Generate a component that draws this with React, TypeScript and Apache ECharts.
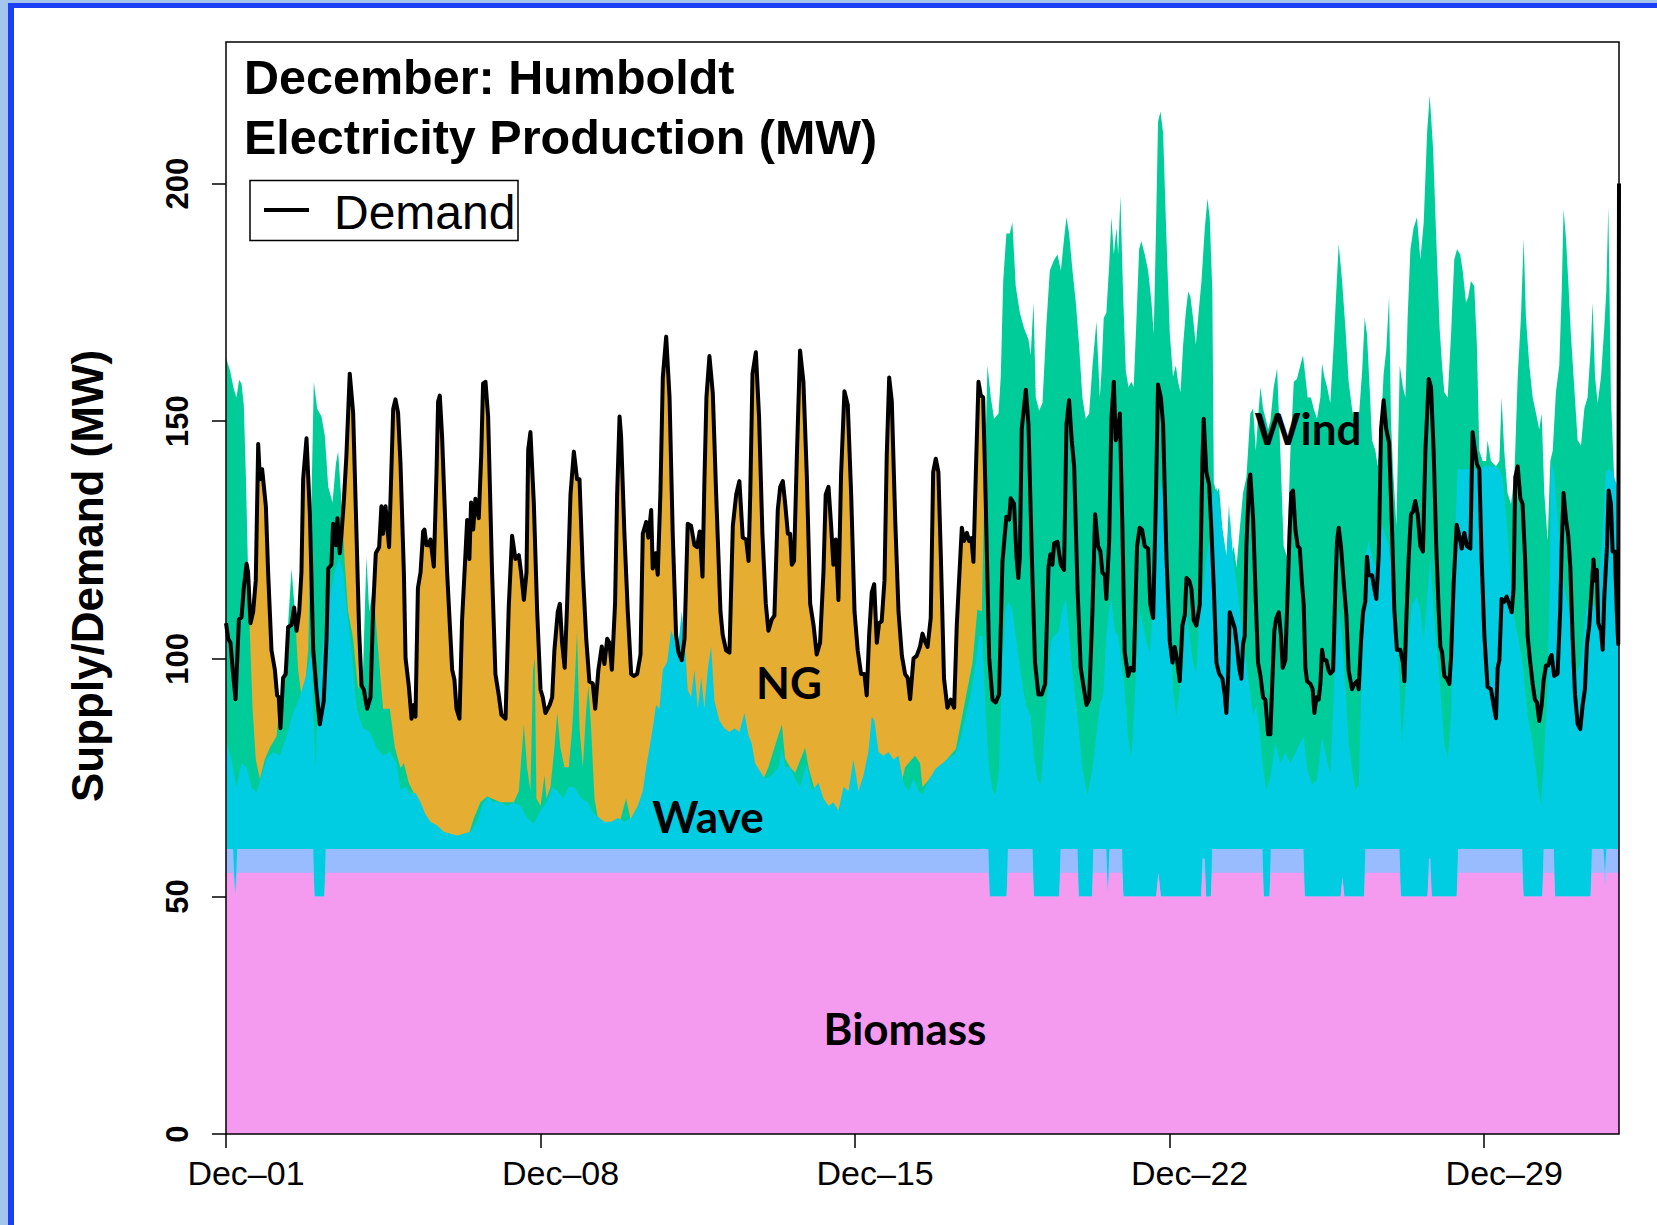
import React, { useEffect, useRef } from 'react';
import * as echarts from 'echarts';

// ---- axis ticks ----
const xTickHours = [0, 168, 336, 504, 672];
const xTickLabels = ['Dec–01', 'Dec–08', 'Dec–15', 'Dec–22', 'Dec–29'];
const yTickValues = [0, 50, 100, 150, 200];

// ---- demand (MW) : [hour since Dec-01 00:00, MW] ----
const demand: [number, number][] = [
  [0,107.5],[1.2,104.2],[2.4,103.4],[3.8,96.8],[5.1,91.5],[6.9,108.3],[8.3,108.7],[9.5,114.9],[11.0,120.0],[11.8,118.2],[13.1,107.5],[14.5,109.9],[15.9,116.5],[17.2,145.2],[18.1,137.8],[19.3,139.9],[21.3,132.1],[22.5,118.2],[24.3,101.8],[26.1,97.7],[27.3,92.3],[28.2,91.9],[29.1,85.4],[30.5,96.0],[31.9,96.8],[33.2,106.7],[35.0,107.1],[36.4,110.8],[37.7,105.9],[39.1,109.9],[40.3,118.2],[41.2,137.8],[43.0,146.4],[44.8,130.5],[46.6,101.8],[48.3,93.5],[50.1,86.2],[52.2,91.1],[53.7,104.2],[54.6,119.0],[56.3,119.8],[57.2,128.4],[58.7,123.9],[59.5,129.6],[60.8,122.2],[61.7,126.3],[62.9,132.9],[64.3,142.7],[66.1,160.0],[67.9,151.8],[69.7,126.3],[71.1,105.9],[72.4,94.4],[73.6,93.5],[75.4,89.5],[77.2,91.9],[78.6,110.8],[80.0,122.2],[81.8,123.5],[83.0,132.1],[83.9,126.3],[85.2,132.1],[87.1,123.5],[89.3,152.6],[90.5,154.6],[91.9,151.8],
  [93.2,141.1],[95.0,118.2],[95.9,100.1],[97.6,94.4],[99.1,87.4],[100.3,90.3],[101.2,87.8],[102.5,114.9],[103.9,118.2],[105.3,126.8],[106.0,127.2],[107.1,123.9],[108.3,123.9],[109.2,125.1],[111.0,119.4],[112.4,138.7],[113.3,154.2],[114.2,155.4],[115.4,146.9],[118.1,118.2],[120.8,97.7],[122.0,95.6],[123.1,89.5],[124.7,87.4],[126.1,108.3],[127.4,118.2],[128.8,129.2],[130.0,121.0],[130.9,132.9],[132.0,127.2],[133.2,133.7],[135.0,129.6],[136.3,142.7],[137.3,157.9],[138.6,158.3],[140.0,151.0],[142.1,118.2],[143.9,96.8],[145.7,92.3],[147.1,88.2],[149.3,87.4],[151.0,110.8],[152.8,125.9],[154.6,121.0],[156.4,121.8],[157.6,118.2],[159.1,112.4],[160.5,118.2],[161.4,144.0],[162.6,147.7],[164.4,132.9],[166.2,109.9],[168.0,93.5],[169.2,91.9],[170.6,88.6],[172.9,90.3],[174.2,91.9],[175.4,101.8],[177.2,109.9],[178.3,111.6],[179.5,103.4],[180.9,98.1],[182.2,111.6],[184.0,134.6],[185.8,143.6],
  [187.5,137.8],[188.8,137.8],[190.6,118.2],[192.4,104.2],[194.1,95.2],[195.9,94.8],[197.2,89.5],[198.9,97.7],[200.7,102.6],[202.1,98.9],[203.6,104.2],[204.8,103.4],[206.1,97.7],[207.8,111.6],[208.9,134.6],[210.2,151.0],[211.0,146.9],[212.8,126.3],[214.6,109.9],[216.4,96.8],[217.8,96.4],[219.6,96.8],[221.4,100.9],[222.6,126.3],[224.4,128.8],[225.6,125.5],[227.1,131.3],[227.9,119.0],[229.4,122.2],[230.6,117.7],[232.0,134.6],[233.3,159.2],[235.1,167.8],[236.9,155.0],[238.6,126.3],[240.4,105.0],[241.7,101.3],[243.4,99.7],[244.9,104.2],[246.6,128.4],[248.4,128.0],[250.2,123.9],[251.6,123.5],[253.0,126.8],[254.5,117.3],[255.5,137.0],[256.6,155.0],[258.2,163.7],[260.0,155.9],[261.8,134.6],[264.1,109.9],[265.3,105.0],[267.1,101.8],[268.9,101.3],[270.7,128.0],[272.5,134.6],[274.2,137.4],[276.0,125.5],[277.8,125.1],
  [279.1,120.6],[280.0,134.6],[281.2,160.0],[283.0,164.5],[284.7,151.0],[286.5,126.3],[288.3,111.6],[289.7,105.9],[291.5,108.3],[292.9,109.1],[294.7,131.3],[296.0,136.2],[297.4,137.4],[298.6,132.9],[300.1,126.3],[301.3,126.3],[302.2,119.8],[303.4,120.6],[304.9,142.7],[306.6,164.9],[308.4,158.3],[310.2,138.7],[312.0,111.6],[313.8,107.1],[315.5,100.9],[317.3,103.4],[319.1,118.2],[320.3,134.6],[321.8,136.2],[323.2,128.0],[324.4,119.8],[325.7,125.1],[327.1,112.4],[328.5,138.7],[330.3,156.3],[332.1,153.4],[333.9,134.6],[335.7,109.9],[337.4,101.8],[339.2,96.8],[341.0,96.8],[342.2,92.3],[343.5,105.0],[344.9,114.0],[346.2,115.7],[347.6,103.4],[348.8,107.5],[350.2,107.9],[351.7,116.5],[352.9,142.7],[354.2,159.2],[355.6,154.2],[357.4,129.6],[359.2,109.9],[361.0,100.6],[362.7,96.8],[364.1,96.0],[365.4,91.5],[367.2,100.1],[368.9,100.6],[370.7,102.6],
  [372.0,105.3],[373.4,103.6],[374.7,102.5],[376.4,108.6],[377.7,139.3],[379.1,142.1],[380.5,139.3],[381.8,121.5],[383.5,95.8],[385.3,89.7],[387.1,91.4],[388.9,89.7],[390.3,107.0],[391.6,117.0],[393.0,127.6],[394.2,124.8],[395.7,126.5],[396.9,124.8],[398.1,125.4],[399.2,120.4],[400.5,139.3],[401.9,158.3],[403.1,155.5],[404.4,155.0],[405.8,132.6],[407.6,100.3],[409.4,91.4],[411.1,90.8],[412.9,92.5],[414.7,120.4],[416.8,129.9],[418.3,129.3],[419.1,133.8],[420.9,132.6],[422.2,121.5],[423.2,117.0],[424.0,121.5],[425.0,148.3],[427.2,156.6],[428.6,149.4],[430.4,121.5],[432.1,99.2],[433.9,92.5],[435.7,92.5],[437.5,94.7],[439.3,119.3],[440.3,122.0],[441.4,119.8],[442.3,124.3],[444.1,124.6],[445.9,119.8],[447.6,118.7],[448.9,149.4],[450.3,154.4],[451.7,146.0],[453.0,140.5],[454.8,114.8],[456.5,98.1],[457.8,94.7],[459.6,90.3],[461.0,91.4],[462.8,110.3],[464.2,130.4],
  [465.8,123.7],[467.0,122.6],[468.1,118.1],[469.4,117.6],[470.2,112.6],[471.7,124.8],[472.9,150.5],[474.2,158.3],[475.2,146.0],[476.5,148.3],[477.4,151.6],[478.8,127.1],[480.0,101.4],[481.8,96.4],[483.2,98.1],[484.8,97.5],[486.6,123.7],[488.0,127.6],[489.3,127.1],[490.7,123.7],[492.5,123.2],[493.7,111.4],[495.2,108.6],[496.6,132.6],[497.8,157.7],[499.3,155.0],[500.5,149.4],[502.3,121.5],[504.1,103.6],[505.5,99.2],[506.7,102.5],[508.0,99.7],[509.4,95.3],[510.8,107.0],[512.1,109.2],[513.0,117.0],[514.4,116.5],[515.6,114.8],[516.9,108.1],[518.3,107.0],[520.1,111.4],[521.5,141.6],[522.2,150.5],[523.6,139.3],[525.1,136.6],[526.3,127.1],[527.6,114.8],[529.0,99.2],[530.4,96.9],[532.2,95.8],[533.4,92.5],[534.3,88.6],[535.2,95.8],[536.1,109.8],[537.5,108.1],[538.8,106.4],[540.0,102.5],[541.1,98.1],[542.3,95.8],[543.2,103.1],[544.1,104.8],[545.0,123.7],[546.4,137.1],[547.1,138.8],[548.6,129.3],[550.0,112.6],[551.2,99.2],[552.5,96.4],[553.9,91.9],[555.1,91.4],[556.6,84.1],
  [557.8,84.1],[558.7,93.6],[559.9,105.9],[561.0,108.6],[562.3,109.8],[563.5,104.8],[564.4,98.1],[565.8,99.7],[567.1,114.8],[568.1,127.1],[569.0,134.9],[569.9,135.4],[571.2,127.1],[572.4,123.7],[573.5,123.2],[574.7,115.9],[575.6,111.4],[576.5,98.1],[577.4,95.3],[579.2,94.7],[580.4,93.6],[581.3,88.6],[582.4,91.9],[583.6,91.4],[584.5,94.7],[585.4,101.9],[586.3,99.7],[587.7,99.7],[589.0,97.5],[589.8,96.9],[591.3,97.5],[592.5,114.8],[593.4,124.8],[594.3,127.6],[595.5,123.7],[597.0,115.9],[598.4,109.2],[599.6,97.5],[601.4,93.6],[602.7,94.7],[604.1,95.3],[605.0,93.6],[606.2,103.6],[607.3,109.8],[608.5,112.0],[609.4,121.5],[610.3,117.6],[612.1,117.6],[613.3,114.8],[614.4,112.6],[615.7,122.0],[616.9,148.3],[618.3,154.4],[619.7,148.3],[621.2,145.5],[622.8,127.1],[624.0,110.3],[625.4,101.9],[627.2,101.9],[628.6,99.2],[629.4,95.3],[630.4,108.1],[631.7,121.5],[632.9,130.4],[634.0,131.0],[635.2,133.2],[636.5,130.4],[637.9,123.7],[639.3,122.6],[640.6,143.8],[642.4,158.9],[643.6,157.2],[645.0,143.8],[646.4,123.7],[647.7,110.3],[648.6,102.5],[649.5,101.4],
  [650.7,96.4],[652.1,95.8],[653.4,94.7],[654.3,100.3],[655.7,115.9],[657.3,128.2],[658.7,125.9],[660.0,123.2],[661.4,126.5],[662.8,123.7],[664.6,123.2],[665.8,147.7],[666.7,144.9],[668.1,141.0],[669.4,139.9],[670.6,121.5],[672.1,104.8],[673.8,94.1],[675.6,93.6],[677.0,90.3],[678.3,87.5],[679.2,98.1],[680.1,99.7],[681.3,112.6],[682.7,112.0],[684.0,113.1],[685.4,111.4],[686.7,109.8],[687.7,114.8],[688.6,138.2],[689.9,140.5],[691.3,133.8],[692.5,132.6],[693.8,121.5],[695.2,104.8],[696.6,99.2],[697.9,94.7],[699.1,91.4],[700.2,90.8],[701.4,86.9],[702.7,90.3],[703.7,95.3],[705.0,98.6],[706.2,98.6],[707.3,100.3],[708.0,100.8],[709.4,96.4],[711.2,96.9],[712.6,110.3],[713.4,123.7],[714.4,134.9],[715.7,129.3],[716.9,125.9],[718.0,119.3],[719.2,104.8],[720.5,92.5],[721.9,86.3],[723.3,85.2],[724.6,90.3],[725.8,93.6],[726.9,103.1],[728.1,107.0],[729.4,114.8],[730.4,120.9],[731.2,116.5],[732.2,118.7],[732.9,107.5],[734.4,105.9],[735.3,101.9],[736.1,112.6],[737.6,123.7],[738.5,135.4],[739.7,132.6],[740.6,122.6],[741.8,122.6],[742.9,109.2],[743.6,103.1],[744,200],
];

// ---- top of the wind layer (cumulative MW) ----
const windTop: [number, number][] = [
  [0,163.3],[2.1,160.8],[4.2,156.7],[5.6,155.0],[7.0,158.7],[8.3,157.9],[9.5,153.4],[10.6,138.7],[11.7,119.8],[12.7,105.9],[14.2,89.5],[15.9,78.8],[18.1,74.7],[20.7,78.8],[23.4,81.3],[27.0,83.7],[29.6,93.5],[32.3,101.8],[35.0,119.0],[36.8,110.0],[38.5,97.7],[41.2,89.5],[43.9,101.8],[45.7,134.6],[46.9,158.3],[48.7,152.6],[51.0,151.0],[52.8,146.9],[54.6,136.2],[56.9,132.9],[58.7,141.1],[59.9,143.6],[61.7,132.9],[63.5,119.8],[65.2,110.0],[67.9,104.2],[70.6,93.5],[73.2,97.7],[75.0,121.4],[76.5,110.0],[78.6,114.9],[81.3,101.8],[83.9,89.5],[87.5,89.5],[90.2,81.3],[93.2,77.0],
  [95.0,78.0],[97.6,73.9],[100.3,71.8],[103.9,66],[106,62],[126,62],[128.8,62],[132.4,66.5],[135.9,69.8],[139.5,71.0],[146.6,69.8],[153.7,69.8],[156.4,72.2],[159.1,86.2],[160.8,77.2],[162.6,72.2],[164.0,97.7],[164.9,100.1],[165.8,70.6],[168.0,69.0],[170.1,75.5],[171.2,70.6],[173.3,73.0],[175.4,81.3],[176.9,88.6],[178.6,81.3],[180.8,77.2],[183.1,77.2],[184.9,85.4],
  [186.1,93.5],[187.5,105.9],[188.8,85.4],[190.6,77.2],[192.4,89.5],[193.6,94.4],[195.0,85.4],[196.8,70.6],[198.6,66.5],[201,62],[208,62],[210.9,66.5],[213.7,70.6],[215.5,67.3],[218,62],[276,62],
  [279.1,80],[286.2,74],[289.7,77.2],[294.2,82.9],[296.9,86.2],[298.6,79],[301.3,77.2],[304.0,76],[309.3,81.3],[311.1,77.2],[314.7,72],[318,62],[358,62],[360.9,74],[362.7,77.2],[368.0,79.6],[370.7,78.0],
  [372.0,73],[389.8,81],[398.7,99.2],[401.3,110.3],[403.7,110],[404.9,132.6],[406.7,161.7],[408.5,155.0],[410.2,150.5],[412.6,151.6],[413.8,159.4],[415.1,179.5],[416.8,189.5],[418.6,189.5],[420.0,191.8],[421.8,178.4],[424.0,172.8],[426.3,169.5],[428.6,167.2],[429.8,163.9],[431.3,175.0],[432.5,155.0],[434.3,152.2],[436.1,153.9],[438.2,170.6],[440.0,181.7],[442.3,184.0],[444.1,185.1],[445.9,181.7],[447.6,188.4],[448.9,192.9],[450.3,189.5],[452.1,181.7],[453.9,175.0],[455.6,166.1],[457.4,155.0],[459.2,150.5],[461.0,151.6],[462.8,161.7],[464.9,171.0],
  [466.7,155.0],[467.6,160.5],[468.8,171.7],[470.2,172.8],[471.7,182.8],[472.9,192.9],[474.2,185.1],[475.6,190.7],[476.5,185.1],[477.7,197.4],[479.1,177.3],[480.6,160.5],[482.0,157.2],[483.6,158.3],[484.8,157.2],[486.3,171.7],[487.7,186.2],[488.9,187.9],[490.7,185.1],[492.5,181.7],[494.3,175.0],[495.5,168.3],[496.6,188.4],[497.8,213.0],[499.1,215.2],[500.5,210.7],[502.3,188.4],[504.1,168.3],[505.8,159.4],[507.3,161.7],[508.5,158.3],[509.8,156.1],[511.2,166.1],[512.6,172.8],[513.9,177.3],[515.1,176.2],[516.5,171.7],[518.0,166.1],[519.2,171.7],[521.0,179.5],[522.8,190.7],[524.2,196.8],[525.4,192.9],[526.8,177.3],[527.6,137.1],[529.0,134.9],[530.4,136.0],[532.2,127.1],[534.3,121.5],[535.7,132.6],[537.0,121.5],[538.2,123.7],[539.7,119.3],[541.4,127.1],[543.2,134.9],[545.0,138.2],[547.1,151.6],[548.6,152.7],[550.0,143.8],[551.2,150.5],[552.5,157.2],[553.9,152.7],[555.3,150.5],[556.6,148.3],[557.8,150.0],
  [559.6,157.2],[561.4,161.1],[563.1,143.8],[564.9,123.7],[566.7,121.5],[568.5,143.8],[570.3,158.3],[572.0,158.9],[573.8,161.7],[575.2,163.9],[576.5,159.4],[577.7,155.0],[579.5,155.0],[580.9,152.7],[582.7,150.5],[584.5,155.0],[585.4,162.2],[586.6,159.4],[588.1,157.2],[589.8,153.8],[591.6,166.1],[593.0,177.3],[594.3,187.3],[596.1,179.5],[597.9,169.5],[599.6,158.3],[601.4,152.7],[603.2,148.3],[605.0,150.5],[606.8,160.5],[608.2,171.7],[609.4,168.3],[610.8,157.2],[612.1,146.0],[613.9,143.8],[615.1,140.5],[616.5,146.0],[618.3,160.0],[619.7,165.0],[621.2,176.2],[622.2,150.5],[623.3,140.0],[625.1,128.0],[626.9,161.7],[628.6,157.2],[629.9,155.0],[631.1,171.7],[632.6,186.2],[634.3,190.7],[636.1,192.9],[637.9,184.0],[639.7,191.8],[641.5,210.7],[642.9,218.6],[644.7,207.4],[646.4,188.4],[648.2,169.5],[649.5,161.7],[650.7,156.1],
  [652.5,155.0],[654.3,168.3],[656.0,184.0],[657.5,186.2],[659.2,185.1],[660.5,181.7],[662.3,175.0],[663.5,176.2],[664.9,179.5],[666.7,178.4],[668.1,166.1],[669.4,143.8],[671.2,141.6],[673.0,141.6],[673.8,146.0],[675.6,141.6],[678.3,140.5],[680.1,141.6],[681.3,155.0],[682.7,143.8],[684.5,134.9],[686.3,132.6],[688.1,138.2],[689.9,159.4],[691.6,171.7],[693.1,188.4],[694.3,171.7],[696.1,161.7],[697.9,155.0],[699.7,151.6],[701.4,148.3],[702.7,151.6],[704.1,134.9],[705.9,124.8],[707.3,141.6],[708.6,143.8],[710.3,156.1],[712.1,161.7],[713.4,177.3],[714.4,194.6],[715.7,188.4],[716.9,179.5],[718.3,168.3],[720.1,157.2],[721.9,146.0],[723.7,144.9],[725.5,152.7],[727.2,155.0],[729.0,166.1],[729.9,175.0],[731.2,159.4],[732.6,153.8],[734.4,159.4],[736.1,169.5],[737.2,177.3],[738.3,195.1],[739.7,155.0],[741.5,137.1],[742.4,127.1],[744.0,123.7],
];

// ---- top of the wave layer (cumulative MW) ----
const waveTop: [number, number][] = [
  [0,82.9],[2.9,78.8],[5.6,73.0],[8.3,78.0],[11.0,77.2],[13.6,73.0],[16.3,71.8],[19.0,75.5],[21.6,78.8],[25.2,80.4],[28.8,79.6],[32.3,83.7],[35.9,88.6],[39.4,91.9],[43.0,96.8],[45.7,101.8],[46.9,85.4],[48.0,77.2],[49.0,93.5],[51.9,103.4],[55.5,113.2],[58.1,118.2],[60.4,121.4],[62.6,118.2],[64.7,110.0],[67.0,101.8],[69.7,89.5],[73.2,85.4],[76.8,84.6],[80.4,81.3],[83.9,79.6],[87.5,80.4],[91.0,78.0],[93.2,72.5],
  [95.9,73.0],[98.5,71.4],[101.2,71.8],[103.9,69.8],[106.5,67.3],[109.2,65.7],[112.8,64.9],[116.3,63.6],[119.9,63.2],[123.5,62.8],[127.0,63.2],[130.6,63.6],[134.1,65.7],[136.8,69.0],[139.5,71.0],[143.0,69.8],[146.6,69.8],[150.2,69.0],[153.7,69.8],[157.3,69.0],[160.8,66.5],[164.4,65.3],[168.0,68.1],[171.5,69.8],[174.2,73.0],[176.9,72.2],[180.4,70.6],[183.1,73.0],[186.1,73.0],
  [189.7,70.6],[193.2,69.8],[196.8,67.3],[199.5,66.5],[202.1,65.7],[205.7,65.7],[209.3,66.5],[212.8,65.7],[216.4,66.5],[219.9,69.0],[222.6,72.2],[224.4,77.2],[226.2,81.3],[227.9,85.4],[229.7,90.3],[231.5,89.5],[233.3,97.7],[235.6,99.3],[237.7,105.9],[239.5,104.2],[241.3,101.8],[243.4,110.0],[244.9,104.2],[246.6,93.5],[248.4,91.9],[250.2,97.7],[252.0,89.5],[253.8,96.0],[255.5,89.5],[257.3,97.7],[259.1,102.6],[260.9,91.1],[263.5,87.0],[266.2,85.4],[268.9,84.6],[271.6,85.4],[274.2,84.6],[276.9,88.6],[279.0,84.0],
  [280.8,82.1],[282.6,78.0],[285.3,76.3],[287.9,74.7],[291.5,75.5],[295.1,77.2],[296.9,81.3],[298.6,77.2],[301.3,77.2],[304.0,74.7],[306.6,73.0],[310.2,78.0],[312.9,72.2],[316.4,73.9],[319.1,70.6],[321.8,69.0],[324.4,69.8],[327.1,68.1],[329.8,73.0],[332.5,72.2],[335.1,78.8],[337.8,72.2],[340.5,75.5],[343.1,80.4],[344.9,87.8],[346.3,87.0],[348.5,80.4],[351.1,79.6],[353.8,80.4],[356.5,78.8],[359.2,79.6],[361.8,73.9],[364.5,72.2],[367.2,74.7],[369.8,72.2],[372.0,71.4],
  [375.5,74.6],[379.1,76.9],[382.7,78.0],[386.2,79.1],[389.8,80.2],[392.5,83.5],[395.1,88.0],[397.8,92.5],[400.5,99.2],[402.2,104.8],[404.0,104.8],[405.8,88.0],[407.6,76.9],[409.4,72.4],[411.1,71.3],[412.9,76.9],[414.7,99.2],[416.5,110.3],[417.9,112.0],[420.0,110.3],[421.8,104.8],[424.5,97.0],[427.2,90.3],[429.8,88.0],[431.6,79.1],[433.4,74.6],[435.2,73.5],[437.8,88.0],[440.5,103.6],[442.3,104.8],[445.0,105.9],[446.7,110.3],[448.5,112.6],[450.3,105.9],[452.1,97.0],[454.8,88.0],[457.4,76.9],[460.1,71.3],[462.8,76.9],[464.9,84.0],
  [466.7,90.3],[468.5,92.5],[470.2,104.8],[471.7,110.3],[472.9,112.6],[474.7,105.9],[476.5,104.8],[478.3,99.2],[480.0,93.6],[481.8,83.6],[483.6,79.1],[484.8,88.0],[486.3,99.2],[488.0,110.3],[489.8,107.0],[491.6,103.6],[493.4,101.4],[495.2,110.3],[496.6,121.5],[497.8,132.6],[499.1,137.1],[500.5,134.9],[502.3,127.1],[504.1,115.9],[505.8,93.6],[507.6,88.0],[509.4,93.6],[511.2,99.2],[513.0,110.3],[514.7,104.8],[516.5,99.2],[518.3,97.0],[520.1,110.3],[521.9,114.8],[523.6,121.5],[525.4,124.8],[527.2,134.9],[529.0,136.0],[530.4,132.6],[532.2,127.1],[534.3,121.5],[536.1,130.4],[537.9,121.5],[539.7,115.9],[541.4,110.3],[543.2,104.8],[545.0,99.2],[546.8,93.6],[548.6,88.0],[550.3,90.3],[552.1,84.7],[553.9,76.9],[555.7,72.4],[557.8,75.0],
  [560.5,82.4],[563.1,78.0],[565.8,80.2],[568.5,78.0],[571.2,80.2],[573.8,82.4],[575.6,83.6],[577.4,76.9],[580.1,73.5],[582.7,74.6],[585.4,83.6],[587.2,80.2],[589.8,75.7],[592.5,99.2],[594.3,110.3],[596.1,104.8],[597.9,93.6],[599.6,82.4],[601.4,76.9],[603.2,72.4],[605.0,73.5],[606.8,99.2],[608.5,121.5],[610.3,124.8],[612.1,121.5],[613.9,119.3],[615.7,123.7],[617.4,128.2],[619.2,126.0],[621.0,123.7],[623.7,115.9],[626.3,99.2],[628.1,82.4],[629.9,93.6],[631.7,104.8],[633.5,111.5],[636.1,113.1],[637.9,110.3],[639.7,103.6],[641.5,112.6],[643.2,121.5],[645.0,110.3],[646.8,101.4],[648.6,93.6],[650.7,82.0],
  [652.5,79.1],[654.3,88.0],[656.0,121.5],[657.8,139.9],[668.5,139.9],[672.1,140.5],[677.4,140.5],[680.1,139.9],[681.9,138.2],[683.6,130.4],[685.4,121.5],[687.2,110.3],[689.9,104.8],[692.5,99.2],[695.2,88.0],[697.9,82.4],[700.5,73.5],[702.3,69.1],[703.7,78.0],[705.9,93.6],[707.2,120.0],[707.7,141.6],[709.4,139.3],[712.1,124.8],[714.8,114.8],[717.5,110.3],[719.2,99.2],[721.0,96.9],[723.7,99.2],[726.4,110.3],[729.0,112.6],[731.7,110.3],[734.4,121.5],[737.0,139.3],[738.8,139.9],[740.6,139.3],[742.4,137.1],[744.0,134.9],
];

// ---- top of the second (periwinkle) base unit, cumulative MW ----
const baseUnitTop: [number, number][] = [
  [0,60],[3.8,60],[4.9,50.5],[6.0,60],[46.6,60],[47.3,50],[52.5,50],[53.2,60],
  [407.2,60],[407.9,50],[416.9,50],[417.6,60],
  [430.8,60],[431.5,50],[445,50],[445.7,60],
  [454.8,60],[455.5,50],[462.5,50],[463.2,60],
  [470.2,60],[471,51],[471.8,60],
  [478.6,60],[479.3,50],[496.8,50],[498,55],[499.3,50],[520.8,50],[521.5,58],[522.8,58],[523.5,50],[526,50],[526.7,60],
  [553.6,60],[554.3,50],[557.3,50],[558,60],
  [575.5,60],[576.2,50],[595.3,50],[596.3,54],[597.3,50],[607.8,50],[608.5,60],
  [626.8,60],[627.5,50],[641.7,50],[642.5,58],[643.3,58],[644,50],[657.3,50],[658,60],
  [692.3,60],[693,50],[703,50],[703.7,60],
  [709.2,60],[709.9,50],[728.8,50],[729.5,60],
  [735.8,60],[736.5,55],[737.2,60],[744,60],
];

// ---- biomass (MW) ----
const biomassTop: [number, number][] = [
  [0,55],[3.8,55],[4.9,50.5],[6.0,55],[46.6,55],[47.3,50],[52.5,50],[53.2,55],
  [407.2,55],[407.9,50],[416.9,50],[417.6,55],
  [430.8,55],[431.5,50],[445,50],[445.7,55],
  [454.8,55],[455.5,50],[462.5,50],[463.2,55],
  [470.2,55],[471,51],[471.8,55],
  [478.6,55],[479.3,50],[496.8,50],[498,55],[499.3,50],[520.8,50],[521.5,55],[522.8,55],[523.5,50],[526,50],[526.7,55],
  [553.6,55],[554.3,50],[557.3,50],[558,55],
  [575.5,55],[576.2,50],[595.3,50],[596.3,54],[597.3,50],[607.8,50],[608.5,55],
  [626.8,55],[627.5,50],[641.7,50],[642.5,55],[643.3,55],[644,50],[657.3,50],[658,55],
  [692.3,55],[693,50],[703,50],[703.7,55],
  [709.2,55],[709.9,50],[728.8,50],[729.5,55],
  [735.8,55],[736.5,52],[737.2,55],[744,55],
];

const COLORS = {
  ng: '#E6AD33',
  wind: '#00CC99',
  wave: '#00CCE2',
  base2: '#99BBFF',
  biomass: '#F49AEF',
};

const GRID = { left: 226, top: 42, width: 1393, height: 1092 };

function areaSeries(name: string, data: [number, number][], color: string, z: number) {
  return {
    name,
    type: 'line',
    data,
    symbol: 'none',
    silent: true,
    z,
    clip: true,
    lineStyle: { width: 0, color },
    itemStyle: { color },
    areaStyle: { color, opacity: 1 },
  };
}

export default function App() {
  const ref = useRef<HTMLDivElement>(null);
  useEffect(() => {
    const chart = echarts.init(ref.current as HTMLDivElement, null, { renderer: 'svg' });
    const option: any = {
      animation: false,
      backgroundColor: '#ffffff',
      title: {
        text: 'December: Humboldt\nElectricity Production (MW)',
        left: 244,
        top: 47,
        padding: 0,
        textStyle: { fontFamily: 'Liberation Sans', fontSize: 48.5, fontWeight: 'bold', color: '#000', lineHeight: 60 },
      },
      grid: { ...GRID, containLabel: false },
      xAxis: {
        type: 'value',
        min: 0,
        max: 744,
        interval: 168,
        axisLine: { show: false },
        splitLine: { show: false },
        axisTick: { show: true, length: 14, customValues: xTickHours, lineStyle: { color: '#000', width: 1.5 } },
        axisLabel: {
          customValues: xTickHours,
          formatter: (v: number) => {
            const i = xTickHours.indexOf(v);
            return i >= 0 ? xTickLabels[i] : '';
          },
          fontFamily: 'Liberation Sans',
          fontSize: 34,
          color: '#000',
          margin: 22,
          padding: [0, 0, 0, 40],
        },
      },
      yAxis: {
        type: 'value',
        min: 0,
        max: 229.8,
        interval: 50,
        axisLine: { show: false },
        splitLine: { show: false },
        axisTick: { show: true, length: 14, customValues: yTickValues, lineStyle: { color: '#000', width: 1.5 } },
        axisLabel: {
          customValues: yTickValues,
          rotate: 90,
          fontFamily: 'Liberation Sans',
          fontWeight: 'bold',
          fontSize: 31,
          color: '#000',
          margin: 33,
        },
      },
      series: [
        areaSeries('NG', demand, COLORS.ng, 1),
        areaSeries('Wind', windTop, COLORS.wind, 2),
        areaSeries('Wave', waveTop, COLORS.wave, 3),
        areaSeries('Base unit', baseUnitTop, COLORS.base2, 4),
        areaSeries('Biomass', biomassTop, COLORS.biomass, 5),
        {
          name: 'Demand',
          type: 'line',
          data: demand,
          symbol: 'none',
          silent: true,
          z: 6,
          clip: true,
          lineStyle: { color: '#000', width: 4, join: 'round' },
        },
      ],
      graphic: [
        { type: 'rect', z: 100, silent: true, shape: { x: 0, y: 0, width: 8, height: 1225 }, style: { fill: '#A4C6EC' } },
        { type: 'rect', z: 100, silent: true, shape: { x: 0, y: 0, width: 1657, height: 3 }, style: { fill: '#A4C6EC' } },
        { type: 'rect', z: 101, silent: true, shape: { x: 8, y: 3, width: 6, height: 1222 }, style: { fill: '#1C40F7' } },
        { type: 'rect', z: 101, silent: true, shape: { x: 8, y: 3, width: 1649, height: 5 }, style: { fill: '#1C40F7' } },
        {
          type: 'rect', z: 100, silent: true,
          shape: { x: GRID.left, y: GRID.top, width: GRID.width, height: GRID.height },
          style: { fill: 'none', stroke: '#000', lineWidth: 1.5 },
        },
        // legend
        { type: 'rect', z: 100, silent: true, shape: { x: 250, y: 180.5, width: 268, height: 60 }, style: { fill: '#fff', stroke: '#000', lineWidth: 1.5 } },
        { type: 'line', z: 101, silent: true, shape: { x1: 264, y1: 210, x2: 309, y2: 210 }, style: { stroke: '#000', lineWidth: 4 } },
        { type: 'text', z: 101, silent: true, x: 334, y: 212, style: { text: 'Demand', font: '48px "Liberation Sans"', fill: '#000', align: 'left', verticalAlign: 'middle' } },
        // y axis title
        {
          type: 'text', z: 101, silent: true, x: 87, y: 576, rotation: Math.PI / 2,
          style: { text: 'Supply/Demand (MW)', font: 'bold 44px "Liberation Sans"', fill: '#000', align: 'center', verticalAlign: 'middle' },
        },
        // annotations
        { type: 'text', z: 101, silent: true, x: 789, y: 682, style: { text: 'NG', font: 'bold 44px Lato', fill: '#000', align: 'center', verticalAlign: 'middle' } },
        { type: 'text', z: 101, silent: true, x: 708, y: 816, style: { text: 'Wave', font: 'bold 44px Lato', fill: '#000', align: 'center', verticalAlign: 'middle' } },
        { type: 'text', z: 101, silent: true, x: 905, y: 1028, style: { text: 'Biomass', font: 'bold 44px Lato', fill: '#000', align: 'center', verticalAlign: 'middle' } },
        { type: 'text', z: 101, silent: true, x: 1308, y: 428, style: { text: 'Wind', font: 'bold 44px Lato', fill: '#000', align: 'center', verticalAlign: 'middle' } },
      ],
    };
    chart.setOption(option);
    return () => chart.dispose();
  }, []);
  return (
    <div
      ref={ref}
      style={{ position: 'absolute', left: 0, top: 0, width: 1657, height: 1225, background: '#fff' }}
    />
  );
}
